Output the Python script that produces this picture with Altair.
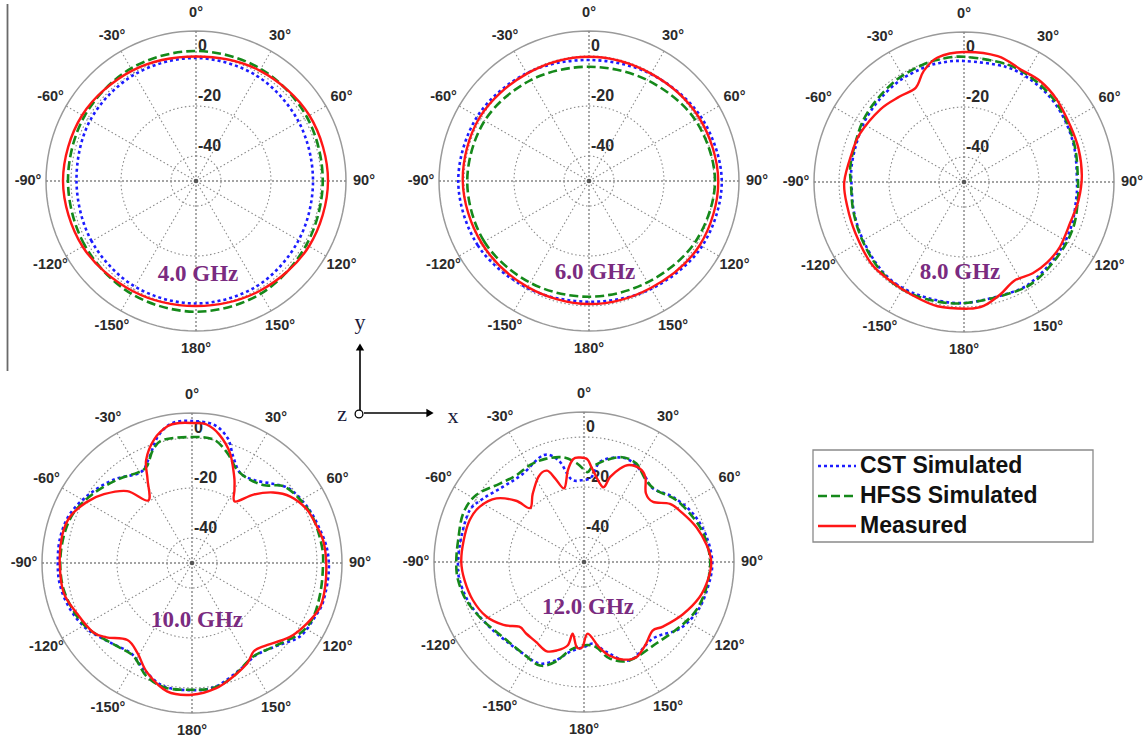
import altair as alt
import pandas as pd

W, H = 1145, 738

# ---------------------------------------------------------------------------
# Azimuth-plane gain patterns: (azimuth in degrees, clockwise from +y,
# normalised gain in dB)
# ---------------------------------------------------------------------------
cst_4ghz = [(-150, -1.2), (-120, -1.8), (-90, -2.2), (-60, -1.2), (-30, -0.8), (0, -0.8),
            (30, -1.4), (60, -2.6), (90, -3.2), (120, -2.6), (150, -1.4), (180, -1.0)]
hfss_4ghz = [(-150, 2.0), (-120, 1.4), (-90, 1.2), (-60, 1.6), (-30, 2.0), (0, 2.0),
             (30, 1.8), (60, 1.2), (90, 0.7), (120, 1.0), (150, 2.0), (180, 2.3)]
meas_4ghz = [(-150, 0.8), (-120, 2.4), (-90, 3.2), (-60, 2.6), (-30, 1.0), (0, -0.2),
             (30, 1.0), (60, 2.4), (90, 2.8), (120, 2.2), (150, 0.8), (180, 0.0)]

cst_6ghz = [(-150, -0.6), (-120, 1.4), (-90, 2.3), (-60, 1.6), (-30, -0.2), (0, -1.6),
            (30, -0.6), (60, 1.6), (90, 3.1), (120, 2.2), (150, -0.2), (180, -1.7)]
hfss_6ghz = [(-150, -3.0), (-120, -1.6), (-90, -1.3), (-60, -1.8), (-30, -3.4), (0, -4.3),
             (30, -3.4), (60, -1.0), (90, 0.4), (120, -1.0), (150, -3.2), (180, -3.7)]
meas_6ghz = [(-150, -1.0), (-120, -0.4), (-90, 0.5), (-60, 0.6), (-30, -0.4), (0, -0.3),
             (30, -0.4), (60, 0.8), (90, 1.7), (120, 1.2), (150, -0.6), (180, -0.8)]

cst_8ghz = [(-162, -1.4), (-147, -1.0), (-134, -2.0), (-119, -3.5), (-105, -4.4), (-92, -5.0),
            (-82, -4.6), (-70, -4.3), (-58, -3.4), (-46, -2.8), (-33, -2.0), (-21, -1.6),
            (-12, -1.4), (0, -1.6), (20, -1.0), (34, -1.2), (47, -1.8), (60, -2.8), (74, -3.9),
            (90, -4.8), (99, -4.6), (112, -3.6), (126, -2.8), (143, -1.9), (156, -1.9), (180, -1.6)]
hfss_8ghz = [(-162, -0.8), (-147, -0.5), (-134, -1.6), (-119, -3.2), (-105, -4.2), (-92, -4.8),
             (-82, -4.1), (-70, -3.8), (-58, -2.7), (-46, -2.0), (-33, -1.0), (-21, -0.4),
             (-12, 0.0), (0, 0.1), (20, 0.1), (34, -0.4), (47, -1.2), (60, -2.4), (74, -3.6),
             (90, -4.4), (99, -3.9), (112, -2.7), (126, -2.2), (143, -1.3), (156, -1.7), (180, -1.5)]
meas_8ghz = [(-168, 0.8), (-156, -0.2), (-143, -0.7), (-131, -0.6), (-115, -2.0), (-102, -2.3),
             (-90, -2.1), (-75, -3.7), (-65, -4.1), (-49, -5.7), (-37, -7.2), (-27, -7.6),
             (-20, -2.8), (-12, 0.9), (0, 2.0), (15, 2.1), (27, 0.4), (37, 0.6), (48, -0.3),
             (62, -1.9), (74, -2.3), (87, -2.8), (99, -3.6), (111, -4.5), (124, -3.7), (134, -3.7),
             (143, -4.3), (153, -5.7), (162, -2.8), (171, 0.2), (178, 0.7)]

cst_10ghz = [(-167, 0.6), (-156, -3.2), (-146, -6.4), (-134, -4.3), (-122, -0.3), (-111, 2.1),
             (-100, 3.5), (-90, 3.7), (-79, 3.7), (-68, 2.6), (-56, -0.6), (-43, -4.3),
             (-30, -8.3), (-23, -5.2), (-15, 2.5), (-8, 6.5), (0, 6.8), (9, 6.0), (16, 1.9),
             (21, -4.2), (28, -9.1), (37, -8.5), (46, -4.5), (53, -0.9), (64, 1.3), (74, 2.7),
             (84, 4.3), (94, 4.8), (106, 4.7), (113, 3.8), (124, 2.3), (134, -2.4), (145, -5.1),
             (156, -3.2), (169, 0.3), (180, 0.9)]
hfss_10ghz = [(-168, 1.0), (-158, -1.2), (-148, -6.0), (-138, -5.2), (-125, -1.7), (-115, 0.7),
              (-102, 2.4), (-90, 2.7), (-78, 2.4), (-67, 1.4), (-55, -1.7), (-42, -5.2),
              (-31, -7.8), (-25, -7.3), (-19, -2.1), (-13, 0.6), (0, 0.4), (10, 0.1), (18, -3.9),
              (25, -8.3), (33, -9.5), (43, -7.5), (50, -2.2), (60, 0.2), (70, 1.7), (83, 2.4),
              (92, 2.4), (103, 2.7), (114, 3.1), (123, 1.6), (136, -3.3), (147, -5.3),
              (160, -1.7), (170, 0.7), (180, 0.7)]
meas_10ghz = [(-169, 2.3), (-158, -2.5), (-149, -7.8), (-140, -9.8), (-131, -4.7), (-125, -1.7),
              (-114, 0.2), (-103, 2.7), (-90, 2.9), (-78, 3.1), (-69, 2.1), (-60, -1.3),
              (-52, -5.3), (-42, -11.3), (-35, -19.5), (-28, -12.1), (-24, -4.9), (-17, 1.7),
              (-10, 5.6), (-5, 6.2), (0, 6.0), (6, 5.7), (12, 2.5), (19, -3.4), (26, -11.5),
              (30, -16.0), (35, -20.0), (42, -13.2), (49, -7.0), (56, -2.5), (65, 0.7), (74, 2.1),
              (81, 3.3), (90, 3.7), (100, 4.1), (109, 4.2), (118, 1.9), (127, -0.9), (139, -6.0),
              (145, -6.9), (151, -4.3), (160, -1.7), (169, 1.0), (180, 2.7)]

cst_12ghz = [(-171, -13.6), (-164, -9.1), (-156, -5.6), (-146, -6.0), (-138, -5.8), (-125, -4.2),
             (-110, -1.3), (-98, 0.3), (-90, 0.4), (-79, 0.1), (-66, 0.2), (-58, -2.3),
             (-47, -5.8), (-35, -7.1), (-21, -4.3), (-14, -8.2), (-9, -16.3), (-2, -17.3),
             (5, -15.9), (9, -9.5), (17, -6.3), (24, -5.4), (34, -7.5), (43, -9.7), (54, -5.9),
             (66, -2.3), (78, 0.0), (90, 1.3), (101, 0.6), (113, -0.5), (125, -3.4), (138, -8.8),
             (155, -6.6), (166, -12.9), (173, -17.1), (180, -16.0)]
hfss_12ghz = [(-171, -14.3), (-164, -8.5), (-157, -5.0), (-146, -6.0), (-133, -5.8), (-120, -3.3),
              (-108, -0.5), (-98, 0.9), (-90, 1.1), (-80, 1.1), (-68, 2.1), (-58, 0.7),
              (-47, -4.0), (-38, -6.0), (-29, -5.6), (-20, -6.0), (-11, -7.4), (-4, -10.5),
              (2, -14.0), (5, -11.8), (12, -8.4), (20, -5.4), (28, -5.4), (37, -8.9), (45, -9.3),
              (56, -5.6), (68, -2.8), (78, -0.7), (90, 0.5), (102, 0.0), (113, -1.1), (124, -3.7),
              (138, -6.4), (155, -6.6), (165, -10.0), (172, -15.6), (180, -16.7)]
meas_12ghz = [(-179, -16.0), (-175, -15.9), (-171, -21.0), (-169, -16.1), (-163, -13.0),
              (-157, -11.3), (-149, -12.7), (-141, -13.2), (-135, -13.4), (-128, -9.1),
              (-119, -5.2), (-109, -3.0), (-99, -1.7), (-90, -0.9), (-80, -1.1), (-70, -1.3),
              (-62, -2.8), (-54, -6.7), (-48, -13.4), (-45, -19.5), (-37, -15.9), (-28, -11.3),
              (-22, -10.6), (-19, -14.7), (-15, -19.5), (-10, -12.8), (-6, -8.6), (-2, -8.2),
              (2, -9.0), (5, -12.5), (14, -19.1), (17, -14.5), (21, -10.0), (25, -7.2),
              (31, -6.5), (36, -8.2), (42, -13.0), (49, -13.4), (56, -8.5), (64, -5.9),
              (73, -2.9), (82, -0.5), (90, 0.9), (98, 0.1), (107, -1.7), (118, -5.3),
              (129, -9.1), (135, -11.2), (143, -8.9), (151, -6.6), (158, -7.9), (165, -11.3),
              (170, -15.4), (177, -21.3)]

FREQS = ["4.0 GHz", "6.0 GHz", "8.0 GHz", "10.0 GHz", "12.0 GHz"]
SERIES = ["CST Simulated", "HFSS Simulated", "Measured"]
PATTERNS = {
    "4.0 GHz": [cst_4ghz, hfss_4ghz, meas_4ghz],
    "6.0 GHz": [cst_6ghz, hfss_6ghz, meas_6ghz],
    "8.0 GHz": [cst_8ghz, hfss_8ghz, meas_8ghz],
    "10.0 GHz": [cst_10ghz, hfss_10ghz, meas_10ghz],
    "12.0 GHz": [cst_12ghz, hfss_12ghz, meas_12ghz],
}
RING_DB = [-40, -20, 0]
RING_TEXT = ["-40", "-20", "0"]
ANGLE_TICKS = [0, 30, 60, 90, 120, 150, 180, -150, -120, -90, -60, -30]

# ---------------------------------------------------------------------------
# Layout (pixels)
# ---------------------------------------------------------------------------
DB_CENTRE = -50      # gain at the pole
DB_OUTER = 10        # gain on the outer circle
PX_PER_DB = 2.5
R_OUTER = (DB_OUTER - DB_CENTRE) * PX_PER_DB
LABEL_RADIUS = 168
CENTRES = {"4.0 GHz": (196, 181), "6.0 GHz": (589, 181), "8.0 GHz": (964, 182),
           "10.0 GHz": (192, 563), "12.0 GHz": (584, 562)}
CAPTIONS = {"4.0 GHz": (198, 274), "6.0 GHz": (595, 272), "8.0 GHz": (960, 272),
            "10.0 GHz": (197, 620), "12.0 GHz": (588, 607)}

STYLES = {
    "CST Simulated": dict(color="#1c1cff", strokeDash=[3, 3], strokeWidth=2.6),
    "HFSS Simulated": dict(color="#15891a", strokeDash=[9, 4], strokeWidth=2.6),
    "Measured": dict(color="#ff1616", strokeWidth=2.4),
}

XS = alt.Scale(domain=[0, W], nice=False, zero=False)
YS = alt.Scale(domain=[0, H], nice=False, zero=False, reverse=True)


def ex(field):
    return alt.X(field, type="quantitative", scale=XS, axis=None)


def ey(field):
    return alt.Y(field, type="quantitative", scale=YS, axis=None)


def to_xy(chart, radius_expr, angle_field="angle", xname="px", yname="py"):
    return (chart
            .transform_calculate(rr=radius_expr)
            .transform_calculate(**{xname: f"datum.cx + datum.rr * sin(datum.{angle_field} * PI / 180)"})
            .transform_calculate(**{yname: f"datum.cy - datum.rr * cos(datum.{angle_field} * PI / 180)"}))


# ---------------------------------------------------------------------------
# Tables
# ---------------------------------------------------------------------------
pat_rows = []
for f in FREQS:
    cx, cy = CENTRES[f]
    for s, pts in zip(SERIES, PATTERNS[f]):
        for i, (a, g) in enumerate(sorted(pts)):
            pat_rows.append(dict(freq=f, series=s, seq=i, angle=a, db=g, cx=cx, cy=cy))
pat = pd.DataFrame(pat_rows)

ring_rows = []
for f in FREQS:
    cx, cy = CENTRES[f]
    for g in RING_DB + [DB_OUTER]:
        for a in range(0, 361, 3):
            ring_rows.append(dict(freq=f, ring=g, angle=a, cx=cx, cy=cy))
rings = pd.DataFrame(ring_rows)

spoke_rows, tick_rows, rlab_rows, cap_rows = [], [], [], []
for f in FREQS:
    cx, cy = CENTRES[f]
    for a in range(0, 360, 30):
        spoke_rows.append(dict(freq=f, angle=a, main=(a % 90 == 0), cx=cx, cy=cy))
    for a in ANGLE_TICKS:
        tick_rows.append(dict(freq=f, angle=a, label=f"{a}\u00b0", cx=cx, cy=cy))
    for g, t in zip(RING_DB, RING_TEXT):
        rlab_rows.append(dict(freq=f, db=g, label=t, cx=cx, cy=cy))
    lx, ly = CAPTIONS[f]
    cap_rows.append(dict(freq=f, lx=lx, ly=ly))
spokes = pd.DataFrame(spoke_rows)
ticks = pd.DataFrame(tick_rows)
rlabs = pd.DataFrame(rlab_rows)
caps = pd.DataFrame(cap_rows)
centres = pd.DataFrame([dict(freq=f, cx=c[0], cy=c[1]) for f, c in CENTRES.items()])

layers = []

# grid circles
ring_base = to_xy(alt.Chart(rings), f"(datum.ring - ({DB_CENTRE})) * {PX_PER_DB}")
layers.append(ring_base.transform_filter(f"datum.ring < {DB_OUTER}")
              .mark_line(color="#8a8a8a", strokeWidth=1.1, strokeDash=[1.5, 2.5])
              .encode(x=ex("px"), y=ey("py"), order="angle:Q", detail=["freq:N", "ring:N"]))
layers.append(ring_base.transform_filter(f"datum.ring == {DB_OUTER}")
              .mark_line(color="#9a9a9a", strokeWidth=1.5)
              .encode(x=ex("px"), y=ey("py"), order="angle:Q", detail=["freq:N", "ring:N"]))

# spokes every 30 degrees
spoke_base = to_xy(alt.Chart(spokes), str(R_OUTER), xname="ex", yname="ey")
layers.append(spoke_base.transform_filter("!datum.main")
              .mark_rule(color="#8c8c8c", strokeWidth=1.1, strokeDash=[1.5, 2.5])
              .encode(x=ex("cx"), y=ey("cy"), x2="ex:Q", y2="ey:Q"))
layers.append(spoke_base.transform_filter("datum.main")
              .mark_rule(color="#858585", strokeWidth=1.4, strokeDash=[2, 2])
              .encode(x=ex("cx"), y=ey("cy"), x2="ex:Q", y2="ey:Q"))

# pole marker
layers.append(alt.Chart(centres).mark_point(filled=True, color="#555555", size=22, opacity=1)
              .encode(x=ex("cx"), y=ey("cy")))

# angle labels
layers.append(to_xy(alt.Chart(ticks), str(LABEL_RADIUS))
              .mark_text(font="Liberation Sans", fontSize=14.5, fontWeight="bold", color="#2a2a2a",
                         align="center", baseline="middle")
              .encode(x=ex("px"), y=ey("py"), text="label:N"))

# radial (dB) labels
layers.append(alt.Chart(rlabs)
              .transform_calculate(lx="datum.cx + 2")
              .transform_calculate(ly=f"datum.cy - ((datum.db - ({DB_CENTRE})) * {PX_PER_DB} + 10)")
              .mark_text(font="Liberation Sans", fontSize=16, fontWeight="bold", color="#2a2a2a",
                         align="left", baseline="middle")
              .encode(x=ex("lx"), y=ey("ly"), text="label:N"))

# gain patterns
for s in SERIES:
    layers.append(to_xy(alt.Chart(pat).transform_filter(alt.datum.series == s),
                        f"(datum.db - ({DB_CENTRE})) * {PX_PER_DB}")
                  .mark_line(interpolate="cardinal-closed", **STYLES[s])
                  .encode(x=ex("px"), y=ey("py"), order="seq:Q", detail="freq:N"))

# frequency captions
layers.append(alt.Chart(caps)
              .mark_text(font="Liberation Serif", fontSize=23, fontWeight="bold",
                         color="#7a2b80", align="center", baseline="middle")
              .encode(x=ex("lx"), y=ey("ly"), text="freq:N"))

# ---------------------------------------------------------------------------
# Legend box
# ---------------------------------------------------------------------------
LEG_X0, LEG_X1, LEG_Y0, LEG_Y1 = 813, 1093, 450, 542
LEG_ROW0, LEG_DY = 466, 30
leg = pd.DataFrame({"series": SERIES, "row": list(range(len(SERIES)))})
one = pd.DataFrame({"k": [0]})

layers.append(alt.Chart(one).mark_rect(fill="white", stroke="#8a8a8a", strokeWidth=1.3)
              .encode(x=alt.value(LEG_X0), x2=alt.value(LEG_X1),
                      y=alt.value(LEG_Y0), y2=alt.value(LEG_Y1)))
for s in SERIES:
    layers.append(alt.Chart(leg).transform_filter(alt.datum.series == s)
                  .transform_calculate(ly=f"{LEG_ROW0} + datum.row * {LEG_DY}")
                  .mark_rule(**STYLES[s])
                  .encode(x=alt.value(818), x2=alt.value(856), y=ey("ly")))
layers.append(alt.Chart(leg)
              .transform_calculate(ly=f"{LEG_ROW0} + datum.row * {LEG_DY}")
              .mark_text(font="Liberation Sans", fontSize=23, fontWeight="bold", color="#111111",
                         align="left", baseline="middle")
              .encode(x=alt.value(860), y=ey("ly"), text="series:N"))

# ---------------------------------------------------------------------------
# Coordinate-system glyph (x right, y up, z out of page)
# ---------------------------------------------------------------------------
layers.append(alt.Chart(one).mark_rule(color="black", strokeWidth=1.6)
              .encode(x=alt.value(360), x2=alt.value(360), y=alt.value(410), y2=alt.value(348)))
layers.append(alt.Chart(one).mark_rule(color="black", strokeWidth=1.6)
              .encode(x=alt.value(364), x2=alt.value(428), y=alt.value(413), y2=alt.value(413)))
layers.append(alt.Chart(one).mark_point(shape="triangle-up", filled=True, color="black",
                                        size=70, opacity=1)
              .encode(x=alt.value(360), y=alt.value(347)))
layers.append(alt.Chart(one).mark_point(shape="triangle-right", filled=True, color="black",
                                        size=70, opacity=1)
              .encode(x=alt.value(430), y=alt.value(413)))
layers.append(alt.Chart(one).mark_point(shape="circle", filled=False, color="black",
                                        size=60, strokeWidth=1.3, opacity=1)
              .encode(x=alt.value(359), y=alt.value(414)))
axis_names = pd.DataFrame({"name": ["y", "z", "x"], "nx": [360, 342, 453], "ny": [322, 414, 416]})
layers.append(alt.Chart(axis_names)
              .mark_text(font="Liberation Serif", fontSize=22, color="#1b1b3a",
                         align="center", baseline="middle")
              .encode(x=ex("nx"), y=ey("ny"), text="name:N"))

# left frame edge
layers.append(alt.Chart(one).mark_rule(color="#6a6a6a", strokeWidth=1.8)
              .encode(x=alt.value(7.5), x2=alt.value(7.5), y=alt.value(4), y2=alt.value(371)))

chart = (alt.layer(*layers)
         .properties(width=W, height=H, padding=0, background="white",
                     autosize=alt.AutoSizeParams(type="none"))
         .configure_view(strokeWidth=0))

chart.save("out.html", embed_options={"renderer": "svg", "actions": False})
